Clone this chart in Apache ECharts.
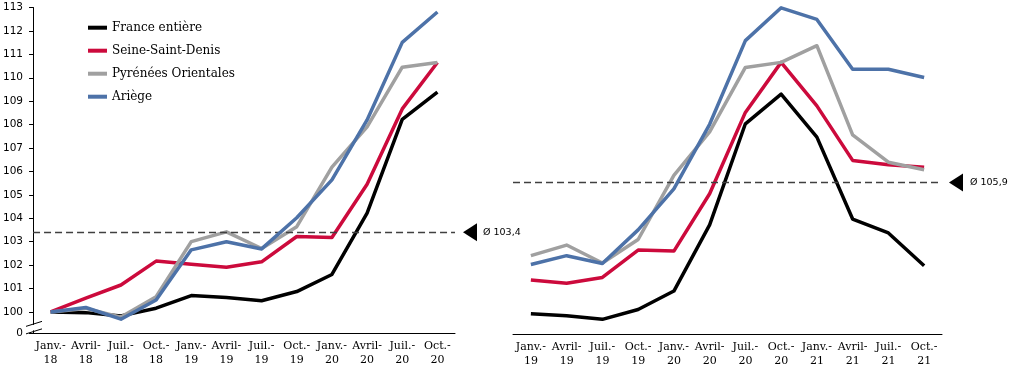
<!DOCTYPE html>
<html>
<head>
<meta charset="utf-8">
<script src="https://cdn.jsdelivr.net/npm/echarts@6/dist/echarts.min.js"></script>
<style>
html,body{margin:0;padding:0;background:#fff;}
#c{width:1016px;height:388px;}
</style>
</head>
<body>
<div id="c"></div>
<script>
// ---- Data (quarterly index, Janv.-18 = 100) ----
const quarters = ['Janv.-\n18','Avril-\n18','Juil.-\n18','Oct.-\n18',
                  'Janv.-\n19','Avril-\n19','Juil.-\n19','Oct.-\n19',
                  'Janv.-\n20','Avril-\n20','Juil.-\n20','Oct.-\n20',
                  'Janv.-\n21','Avril-\n21','Juil.-\n21','Oct.-\n21'];
const seriesNames = ['France entière','Seine-Saint-Denis','Pyrénées Orientales','Ariège'];
const france   = [100.0, 99.97, 99.83, 100.16, 100.70, 100.62, 100.48, 100.87, 101.60, 104.22, 108.22, 109.39, 107.69, 104.45, 103.90, 102.60];
const seine    = [100.0, 100.59, 101.15, 102.17, 102.04, 101.91, 102.14, 103.22, 103.18, 105.45, 108.67, 110.65, 108.93, 106.77, 106.60, 106.50];
const pyrenees = [100.0, 100.15, 99.78, 100.65, 103.00, 103.42, 102.71, 103.64, 106.18, 107.90, 110.45, 110.65, 111.31, 107.78, 106.70, 106.40];
const ariege   = [100.0, 100.19, 99.69, 100.51, 102.65, 103.00, 102.69, 104.02, 105.64, 108.20, 111.51, 112.81, 112.35, 110.38, 110.38, 110.05];
const leftRange  = [0, 12];   // Janv.-18 .. Oct.-20
const rightRange = [4, 16];   // Janv.-19 .. Oct.-21
const avgLeft  = 103.4;
const avgRight = 105.9;
const avgLeftLabel  = 'Ø 103,4';
const avgRightLabel = 'Ø 105,9';
const yTicksLeft = [100,101,102,103,104,105,106,107,108,109,110,111,112,113];
const yBreakLabel = '0';

// ---- Styles ----
const colors = ['#000000', '#CC0A3C', '#A0A0A0', '#4D72A8'];
const serif = 'DejaVu Serif';
const sans = 'DejaVu Sans';
const yMinLeft = 99.1;   // position where the broken axis shows "0"
const gridL = {left: 33, right: 561, top: 7.5, bottom: 55};
const gridR = {left: 513, right: 74, top: 3, bottom: 54};

const allData = [france, seine, pyrenees, ariege];
const xLabel = {fontFamily: serif, fontSize: 11, color: '#000', lineHeight: 14, margin: 6, interval: 0};

function makeSeries(range, axisIdx, avg) {
  return allData.map((d, i) => {
    const s = {
      name: seriesNames[i], type: 'line',
      xAxisIndex: axisIdx, yAxisIndex: axisIdx,
      data: d.slice(range[0], range[1]),
      symbol: 'none', smooth: false,
      lineStyle: {width: 3.5, color: colors[i], join: 'round'},
      itemStyle: {color: colors[i]},
      z: 2 + i
    };
    if (i === 0) {
      s.markLine = {
        silent: true, symbol: ['none', 'none'],
        label: {show: false},
        lineStyle: {type: [7, 4], color: '#404040', width: 1.3},
        data: [{yAxis: avg}],
        animation: false
      };
    }
    return s;
  });
}

const chart = echarts.init(document.getElementById('c'), null, {renderer: 'canvas'});
const option = {
  animation: false,
  backgroundColor: '#fff',
  color: colors,
  legend: {
    data: seriesNames, orient: 'vertical', left: 83, top: 14.7,
    icon: 'rect', itemWidth: 19, itemHeight: 4, itemGap: 7,
    textStyle: {fontFamily: serif, fontSize: 12, color: '#000', lineHeight: 16}
  },
  grid: [gridL, gridR],
  xAxis: [
    {type: 'category', gridIndex: 0, data: quarters.slice(leftRange[0], leftRange[1]), boundaryGap: true,
     axisLine: {onZero: false, lineStyle: {color: '#000', width: 1}}, axisTick: {show: false}, axisLabel: xLabel},
    {type: 'category', gridIndex: 1, data: quarters.slice(rightRange[0], rightRange[1]), boundaryGap: true,
     axisLine: {onZero: false, lineStyle: {color: '#000', width: 1}}, axisTick: {show: false}, axisLabel: xLabel}
  ],
  yAxis: [
    {type: 'value', gridIndex: 0, min: yMinLeft, max: 113,
     splitLine: {show: false},
     axisLine: {show: true, lineStyle: {color: '#000', width: 1}},
     axisTick: {show: true, length: 4, inside: false, customValues: [yMinLeft].concat(yTicksLeft), lineStyle: {color: '#000'}},
     axisLabel: {customValues: [yMinLeft].concat(yTicksLeft), fontFamily: sans, fontSize: 10.5, color: '#000', margin: 10,
       formatter: v => (v < 99.9 ? yBreakLabel : String(Math.round(v)))}},
    {type: 'value', gridIndex: 1, min: 99.9, max: 113, show: false, splitLine: {show: false}}
  ],
  series: makeSeries(leftRange, 0, avgLeft).concat(makeSeries(rightRange, 1, avgRight))
};
chart.setOption(option);

// ---- Annotations placed through the library's own scales ----
function annotations() {
  const yL = chart.convertToPixel({yAxisIndex: 0}, avgLeft);
  const yR = chart.convertToPixel({yAxisIndex: 1}, avgRight);
  const leftEnd = 1016 - gridL.right;
  const rightEnd = 1016 - gridR.right;
  const axisX = gridL.left;
  const yb1 = chart.convertToPixel({yAxisIndex: 0}, 99.49);
  const yb2 = chart.convertToPixel({yAxisIndex: 0}, 99.17);
  const tri = (tip, y) => ({type: 'polygon', shape: {points: [[tip, y], [tip + 14, y - 9], [tip + 14, y + 9]]}, style: {fill: '#000'}, z: 10});
  const txt = (x, y, t) => ({type: 'text', x: x, y: y, style: {text: t, fontFamily: sans, fontSize: 9.5, fill: '#000', verticalAlign: 'middle', align: 'left'}, z: 10});
  chart.setOption({
    graphic: [
      tri(leftEnd + 8, yL), txt(leftEnd + 28, yL, avgLeftLabel),
      tri(rightEnd + 7, yR), txt(rightEnd + 28, yR, avgRightLabel),
      {type: 'rect', shape: {x: axisX - 2, y: yb1 + 1, width: 4, height: yb2 - yb1 - 2}, style: {fill: '#fff'}, z: 20},
      {type: 'line', shape: {x1: axisX - 7, y1: yb1 + 2.5, x2: axisX + 9, y2: yb1 - 2.5}, style: {stroke: '#000', lineWidth: 1}, z: 21},
      {type: 'line', shape: {x1: axisX - 7, y1: yb2 + 2.5, x2: axisX + 9, y2: yb2 - 2.5}, style: {stroke: '#000', lineWidth: 1}, z: 21}
    ]
  });
}
annotations();
</script>
</body>
</html>
